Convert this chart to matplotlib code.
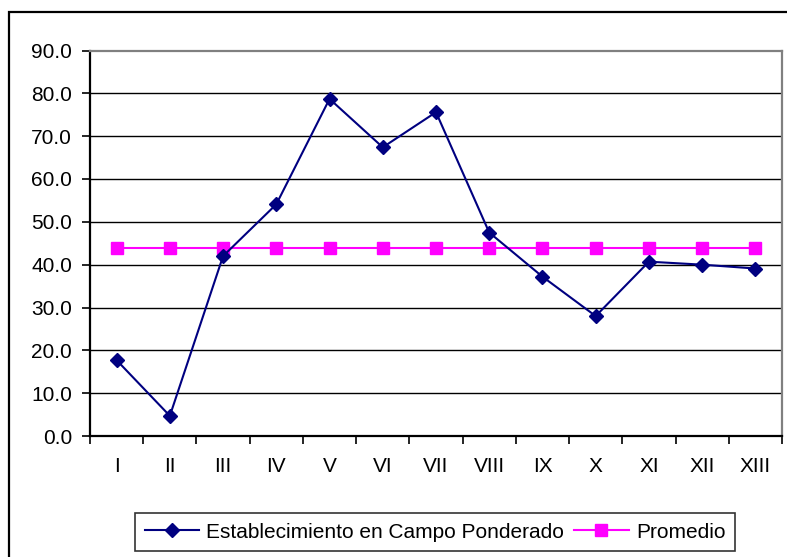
import matplotlib
matplotlib.use("Agg")
import matplotlib.pyplot as plt
from matplotlib.patches import Rectangle

categories = ["I", "II", "III", "IV", "V", "VI", "VII", "VIII", "IX", "X", "XI", "XII", "XIII"]
establecimiento = [17.7, 4.7, 42.0, 54.1, 78.7, 67.4, 75.6, 47.5, 37.2, 28.0, 40.7, 40.0, 39.1]
promedio = [43.9] * 13
yticks = [0, 10, 20, 30, 40, 50, 60, 70, 80, 90]

plt.rcParams['font.family'] = ['Liberation Sans', 'DejaVu Sans']
plt.rcParams['font.size'] = 15

W, H = 787, 557
fig = plt.figure(figsize=(W / 100, H / 100), dpi=100)

# outer chart border
fig.patches.append(Rectangle((9 / W, -0.1), 1.2, 1 - 12 / H + 0.1, transform=fig.transFigure,
                             fill=False, edgecolor='black', linewidth=1.6, zorder=0))

ax = fig.add_axes([90 / W, 1 - 436 / H, (782 - 90) / W, (436 - 50.5) / H])
x = list(range(len(categories)))

ax.plot(x, establecimiento, color='#000080', linewidth=1.5, marker='D', markersize=7,
        markerfacecolor='#000080', markeredgecolor='#000080', label='Establecimiento en Campo Ponderado',
        zorder=4, clip_on=False)
ax.plot(x, promedio, color='#FF00FF', linewidth=1.5, marker='s', markersize=9,
        markerfacecolor='#FF00FF', markeredgecolor='#FF00FF', label='Promedio', zorder=3, clip_on=False)

ax.set_xlim(-0.5, len(categories) - 0.5)
ax.set_ylim(0, 90)
ax.set_yticks(yticks)
ax.set_yticklabels([f"{v:.1f}" for v in yticks])
ax.set_xticks(x)
ax.set_xticklabels(categories)
ax.set_xticks([i - 0.5 for i in range(len(categories) + 1)], minor=True)
ax.tick_params(axis='x', which='major', length=0, pad=15)
ax.tick_params(axis='x', which='minor', length=6, width=1.2, direction='out', color='black')
ax.tick_params(axis='y', which='major', length=6, width=1.2, direction='out', pad=7, color='black')

for v in yticks[1:-1]:
    ax.axhline(v, color='black', linewidth=1.0, zorder=1)

ax.spines['left'].set_color('black')
ax.spines['left'].set_linewidth(1.6)
ax.spines['bottom'].set_color('black')
ax.spines['bottom'].set_linewidth(1.6)
ax.spines['top'].set_color('#808080')
ax.spines['top'].set_linewidth(1.6)
ax.spines['right'].set_color('#808080')
ax.spines['right'].set_linewidth(1.6)

leg = fig.legend(loc='center', bbox_to_anchor=(435 / W, 1 - 532 / H), ncol=2, frameon=True,
                 fancybox=False, edgecolor='black', handlelength=2.6, handletextpad=0.35,
                 columnspacing=0.5, borderpad=0.45, fontsize=15, markerscale=1.0)
leg.get_frame().set_linewidth(1.2)

fig.savefig("out.png", dpi=100)
